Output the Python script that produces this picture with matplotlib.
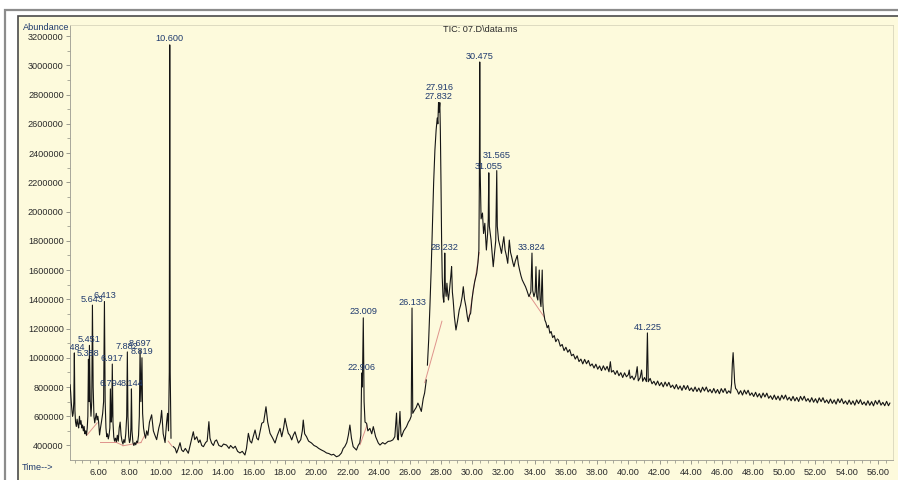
import matplotlib.pyplot as plt
import numpy as np
from matplotlib.patches import Rectangle
from matplotlib.ticker import MultipleLocator, FormatStrFormatter

plt.rcParams['font.family'] = ['Liberation Sans', 'DejaVu Sans']

# TIC trace: (retention time min, abundance in thousands)
early = [
    (4.21, 815), (4.25, 760), (4.29, 690), (4.33, 640), (4.37, 600), (4.41, 620),
    (4.45, 700), (4.484, 1033), (4.52, 640), (4.56, 560), (4.61, 530), (4.66, 580),
    (4.71, 545), (4.76, 520), (4.81, 600), (4.86, 545), (4.91, 570), (4.96, 520),
    (5.01, 540), (5.06, 500), (5.11, 530), (5.16, 480), (5.21, 500), (5.26, 470),
    (5.31, 520), (5.35, 600), (5.388, 990), (5.42, 700), (5.451, 1085), (5.50, 720),
    (5.55, 600), (5.60, 700), (5.643, 1360), (5.69, 800), (5.74, 600), (5.79, 555),
    (5.84, 590), (5.89, 620), (5.94, 575), (5.99, 600), (6.04, 560), (6.10, 472),
    (6.16, 520), (6.22, 560), (6.30, 620), (6.36, 700), (6.413, 1385), (6.46, 700),
    (6.51, 520), (6.56, 460), (6.61, 480), (6.66, 445), (6.71, 470), (6.76, 520),
    (6.794, 787), (6.84, 560), (6.88, 600), (6.917, 957), (6.96, 560), (7.01, 460),
    (7.06, 430), (7.12, 450), (7.18, 425), (7.24, 470), (7.30, 430), (7.36, 520),
    (7.42, 560), (7.48, 470), (7.54, 430), (7.60, 410), (7.66, 440), (7.72, 420),
    (7.78, 480), (7.84, 600), (7.882, 1040), (7.92, 600), (7.97, 460), (8.02, 420),
    (8.07, 440), (8.11, 520), (8.144, 787), (8.18, 500), (8.24, 420), (8.30, 400),
    (8.36, 420), (8.42, 405), (8.48, 430), (8.54, 420), (8.60, 470), (8.65, 600),
    (8.697, 1055), (8.75, 700), (8.819, 1000), (8.86, 620), (8.92, 520), (8.98, 480),
    (9.05, 450), (9.12, 500), (9.2, 470), (9.3, 560), (9.44, 610), (9.55, 500),
    (9.65, 470), (9.76, 440), (9.9, 520), (10.0, 560), (10.08, 640), (10.18, 480),
    (10.3, 420), (10.4, 560), (10.46, 620), (10.52, 500), (10.57, 900), (10.60, 3140),
    (10.63, 900), (10.68, 450),
]

middle = [
    (10.83, 392), (10.95, 380), (11.04, 349), (11.15, 380), (11.26, 419), (11.36, 370),
    (11.47, 358), (11.6, 380), (11.79, 347), (11.95, 420), (12.11, 494), (12.2, 440),
    (12.33, 460), (12.45, 420), (12.54, 438), (12.65, 400), (12.76, 392), (12.9, 420),
    (13.0, 430), (13.11, 563), (13.18, 450), (13.28, 417), (13.4, 400), (13.5, 430),
    (13.6, 438), (13.75, 400), (13.92, 392), (14.05, 410), (14.24, 403), (14.4, 380),
    (14.5, 400), (14.67, 381), (14.8, 395), (14.95, 360), (15.1, 349), (15.25, 360),
    (15.42, 335), (15.52, 380), (15.64, 483), (15.75, 430), (15.85, 417), (15.95, 460),
    (16.07, 506), (16.18, 450), (16.28, 438), (16.4, 500), (16.5, 552), (16.62, 560),
    (16.77, 665), (16.88, 560), (17.03, 483), (17.2, 450), (17.35, 417), (17.5, 470),
    (17.67, 517), (17.78, 460), (17.9, 520), (17.99, 586), (18.1, 530), (18.2, 483),
    (18.3, 470), (18.42, 438), (18.52, 470), (18.63, 494), (18.75, 450), (18.85, 417),
    (19.0, 440), (19.1, 500), (19.16, 574), (19.25, 480), (19.37, 460), (19.5, 430),
    (19.69, 417), (19.85, 400), (20.01, 392), (20.15, 380), (20.33, 369), (20.5, 360),
    (20.65, 349), (20.8, 345), (20.97, 335), (21.1, 340), (21.29, 323), (21.45, 330),
    (21.61, 349), (21.72, 380), (21.82, 392), (21.95, 420), (22.05, 470), (22.15, 540),
    (22.25, 450), (22.36, 392), (22.47, 380), (22.57, 369), (22.68, 400), (22.78, 417),
    (22.85, 470), (22.906, 896), (22.95, 800), (23.009, 1273), (23.06, 700), (23.12, 560),
    (23.22, 552), (23.3, 500), (23.43, 517), (23.55, 480), (23.65, 529), (23.8, 460),
    (23.97, 417), (24.08, 403), (24.25, 420), (24.4, 410), (24.6, 428), (24.75, 430),
    (24.9, 438), (25.03, 460), (25.14, 622), (25.2, 450), (25.25, 438), (25.36, 633),
    (25.42, 480), (25.46, 460), (25.6, 500), (25.78, 529), (25.9, 560), (25.99, 575),
    (26.08, 600), (26.133, 1340), (26.18, 620), (26.3, 643), (26.4, 660), (26.51, 690),
    (26.6, 670), (26.73, 633), (26.85, 720), (26.94, 759), (27.05, 848),
]

hump = [
    (27.12, 950), (27.2, 1120), (27.28, 1350), (27.36, 1600), (27.44, 1900), (27.52, 2200),
    (27.6, 2420), (27.68, 2560), (27.75, 2640), (27.79, 2600), (27.832, 2745), (27.87, 2680),
    (27.916, 2745), (27.95, 2550), (27.99, 2200), (28.03, 1800), (28.07, 1550), (28.12, 1420),
    (28.17, 1380), (28.2, 1450), (28.232, 1716), (28.27, 1480), (28.32, 1420), (28.37, 1510),
    (28.42, 1440), (28.47, 1395), (28.55, 1480), (28.62, 1560), (28.67, 1623), (28.72, 1450),
    (28.77, 1395), (28.85, 1280), (28.95, 1190), (29.05, 1250), (29.16, 1327), (29.25, 1360),
    (29.35, 1420), (29.42, 1486), (29.5, 1400), (29.59, 1350), (29.68, 1280), (29.74, 1247),
    (29.82, 1290), (29.89, 1304), (29.98, 1400), (30.06, 1464), (30.15, 1520), (30.28, 1578),
    (30.36, 1650), (30.42, 1737), (30.45, 2200), (30.475, 3023), (30.5, 2300), (30.56, 1950),
    (30.65, 1990), (30.72, 1850), (30.8, 1920), (30.9, 1737), (30.98, 1850), (31.02, 1950),
    (31.055, 2265), (31.09, 1900), (31.2, 1805), (31.28, 1700), (31.34, 1623), (31.42, 1714),
    (31.5, 1800), (31.565, 2280), (31.6, 1900), (31.68, 1805), (31.78, 1760), (31.87, 1714),
    (31.95, 1780), (32.02, 1828), (32.1, 1737), (32.18, 1700), (32.27, 1646), (32.37, 1805),
    (32.45, 1720), (32.52, 1691), (32.6, 1650), (32.67, 1623), (32.75, 1660), (32.88, 1700),
    (32.95, 1640), (33.03, 1600), (33.12, 1560), (33.2, 1532), (33.3, 1510), (33.41, 1486),
    (33.5, 1460), (33.63, 1418), (33.75, 1450), (33.824, 1716), (33.87, 1460), (33.95, 1418),
    (34.03, 1450), (34.08, 1623), (34.13, 1420), (34.2, 1395), (34.29, 1600), (34.34, 1400),
    (34.4, 1350), (34.48, 1600), (34.52, 1380), (34.55, 1327), (34.65, 1258), (34.72, 1240),
    (34.8, 1205), (34.88, 1222), (34.97, 1168), (35.05, 1180), (35.15, 1138), (35.25, 1152),
    (35.35, 1110), (35.45, 1128),
]

tail = [
    (35.52, 1123), (35.64, 1079), (35.76, 1091), (35.88, 1049), (36.00, 1072), (36.12, 1038),
    (36.24, 1056), (36.36, 1014), (36.48, 1024), (36.60, 991), (36.72, 1013), (36.84, 974),
    (36.96, 991), (37.08, 958), (37.20, 989), (37.32, 959), (37.44, 982), (37.56, 944),
    (37.68, 958), (37.80, 930), (37.92, 956), (38.04, 922), (38.16, 944), (38.28, 912),
    (38.40, 945), (38.52, 916), (38.64, 941), (38.76, 904), (38.85, 973), (38.92, 902),
    (39.04, 913), (39.16, 886), (39.28, 912), (39.40, 877), (39.52, 898), (39.64, 865),
    (39.76, 897), (39.88, 870), (40.00, 885), (40.06, 916), (40.12, 859), (40.24, 875),
    (40.36, 849), (40.48, 876), (40.57, 939), (40.64, 842), (40.76, 864), (40.85, 916),
    (40.92, 839), (41.04, 865), (41.16, 837), (41.225, 1170), (41.28, 836), (41.40, 859),
    (41.52, 822), (41.64, 839), (41.76, 813), (41.88, 841), (42.00, 809), (42.12, 831),
    (42.24, 801), (42.36, 834), (42.48, 806), (42.60, 832), (42.72, 797), (42.84, 813),
    (42.96, 788), (43.08, 817), (43.20, 785), (43.32, 807), (43.44, 777), (43.56, 811),
    (43.68, 783), (43.80, 810), (43.92, 776), (44.04, 794), (44.16, 770), (44.28, 800),
    (44.40, 769), (44.52, 793), (44.64, 764), (44.76, 799), (44.88, 773), (45.00, 800),
    (45.12, 766), (45.24, 784), (45.36, 760), (45.48, 790), (45.60, 759), (45.72, 783),
    (45.84, 754), (45.96, 789), (46.08, 763), (46.20, 790), (46.32, 756), (46.44, 774),
    (46.56, 758), (46.62, 820), (46.67, 960), (46.72, 1035), (46.77, 930), (46.82, 830),
    (46.88, 790), (46.96, 781), (47.08, 751), (47.20, 775), (47.32, 745), (47.44, 779),
    (47.56, 752), (47.68, 778), (47.80, 743), (47.92, 760), (48.04, 735), (48.16, 764),
    (48.28, 732), (48.40, 755), (48.52, 725), (48.64, 759), (48.76, 732), (48.88, 758),
    (49.00, 723), (49.12, 740), (49.24, 715), (49.36, 745), (49.48, 714), (49.60, 738),
    (49.72, 709), (49.84, 744), (49.96, 718), (50.08, 745), (50.20, 711), (50.32, 730),
    (50.44, 706), (50.56, 736), (50.68, 705), (50.80, 729), (50.92, 701), (51.04, 736),
    (51.16, 710), (51.28, 737), (51.40, 703), (51.52, 721), (51.64, 697), (51.76, 727),
    (51.88, 696), (52.00, 720), (52.12, 691), (52.24, 726), (52.36, 700), (52.48, 727),
    (52.60, 693), (52.72, 712), (52.84, 688), (52.96, 718), (53.08, 688), (53.20, 712),
    (53.32, 683), (53.44, 719), (53.56, 693), (53.68, 720), (53.80, 686), (53.92, 705),
    (54.04, 681), (54.16, 711), (54.28, 681), (54.40, 705), (54.52, 676), (54.64, 712),
    (54.76, 686), (54.88, 713), (55.00, 680), (55.12, 698), (55.24, 675), (55.36, 706),
    (55.48, 675), (55.60, 700), (55.72, 671), (55.84, 707), (55.96, 682), (56.08, 710),
    (56.20, 676), (56.32, 695), (56.44, 672), (56.56, 702), (56.68, 672), (56.77, 690),
]

# labelled peaks: retention time and apex abundance (thousands)
peak_names = ['4.484', '5.388', '5.451', '5.643', '6.413', '6.794', '6.917', '7.882',
              '8.144', '8.697', '8.819', '10.600', '22.906', '23.009', '26.133',
              '27.832', '27.916', '28.232', '30.475', '31.055', '31.565', '33.824', '41.225']
peak_rt = [4.484, 5.388, 5.451, 5.643, 6.413, 6.794, 6.917, 7.882, 8.144, 8.697, 8.819,
           10.600, 22.906, 23.009, 26.133, 27.832, 27.916, 28.232, 30.475, 31.055,
           31.565, 33.824, 41.225]
peak_top = [1033, 990, 1085, 1360, 1385, 787, 957, 1040, 787, 1055, 1000, 3140, 896,
            1273, 1340, 2745, 2745, 1716, 3023, 2265, 2280, 1716, 1170]

# integration baselines (start time, start k, end time, end k)
baselines = [
    (5.28, 470, 5.95, 555), (6.10, 425, 7.10, 425), (7.10, 425, 7.60, 400),
    (7.60, 398, 8.75, 420), (8.75, 420, 9.00, 470), (10.50, 430, 10.75, 395),
    (22.80, 405, 23.25, 540), (26.95, 830, 28.05, 1250), (29.75, 1250, 30.45, 1720),
    (33.70, 1420, 34.60, 1280),
]

cream = '#fdfadc'
ink = '#1f3a6e'

fig = plt.figure(figsize=(8.98, 4.8), dpi=100)
fig.patch.set_facecolor('white')
fig.patches.append(Rectangle((5 / 898, -0.1), 2, 1 - 10 / 480 + 0.1, transform=fig.transFigure,
                             facecolor='none', edgecolor='#8c8c8c', lw=1.6, zorder=-2))
fig.patches.append(Rectangle((18 / 898, -0.1), 2, 1 - 16 / 480 + 0.1, transform=fig.transFigure,
                             facecolor=cream, edgecolor='#4a4a4a', lw=1.2, zorder=-1))

ax = fig.add_axes([70 / 898, 20 / 480, 823 / 898, 435 / 480])
ax.set_facecolor('none')

for seg in (early, middle, hump, tail):
    t, a = zip(*seg)
    ax.plot(t, np.array(a) * 1000, color='#151515', lw=0.8, zorder=3)

for t0, a0, t1, a1 in baselines:
    ax.plot([t0, t1], [a0 * 1000, a1 * 1000], color='#d77a78', lw=0.7, alpha=0.8, zorder=2)

lift = {'27.916': 6.5, '31.565': 7}
for name, rt, top in zip(peak_names, peak_rt, peak_top):
    ax.annotate(name, (rt, top * 1000), xytext=(0, 1 + lift.get(name, 0)),
                textcoords='offset points', ha='center', va='bottom',
                fontsize=6.6, color=ink, clip_on=True, zorder=4)

ax.set_xlim(4.205, 56.97)
ax.set_ylim(300800, 3276000)

ax.xaxis.set_minor_locator(MultipleLocator(0.5))
ax.xaxis.set_major_formatter(FormatStrFormatter('%.2f'))
ax.set_xticks(np.arange(6, 57, 2))
ax.yaxis.set_minor_locator(MultipleLocator(100000))
ax.yaxis.set_major_formatter(FormatStrFormatter('%d'))
ax.set_yticks(np.arange(400000, 3200001, 200000))

ax.tick_params(axis='both', which='major', labelsize=6.6, colors='#8a8a80',
               labelcolor='#2a2a2a', length=3, width=0.6, pad=1.5)
ax.tick_params(axis='both', which='minor', colors='#8a8a80', length=2, width=0.5)
ax.tick_params(axis='x', pad=3)

for side in ('left', 'bottom'):
    ax.spines[side].set_color('#9a9a90')
    ax.spines[side].set_linewidth(0.6)
for side in ('top', 'right'):
    ax.spines[side].set_color('#d8d5bc')
    ax.spines[side].set_linewidth(0.6)

fig.text(23 / 898, 1 - 28 / 480, 'Abundance', fontsize=6.6, color=ink, va='center', ha='left')
fig.text(22 / 898, 1 - 468 / 480, 'Time-->', fontsize=6.6, color=ink, va='center', ha='left')
fig.text(480 / 898, 1 - 29 / 480, 'TIC: 07.D\\data.ms', fontsize=6.6, color='#2a2a2a',
         va='center', ha='center')

fig.savefig('out.png', dpi=100, facecolor='white')
